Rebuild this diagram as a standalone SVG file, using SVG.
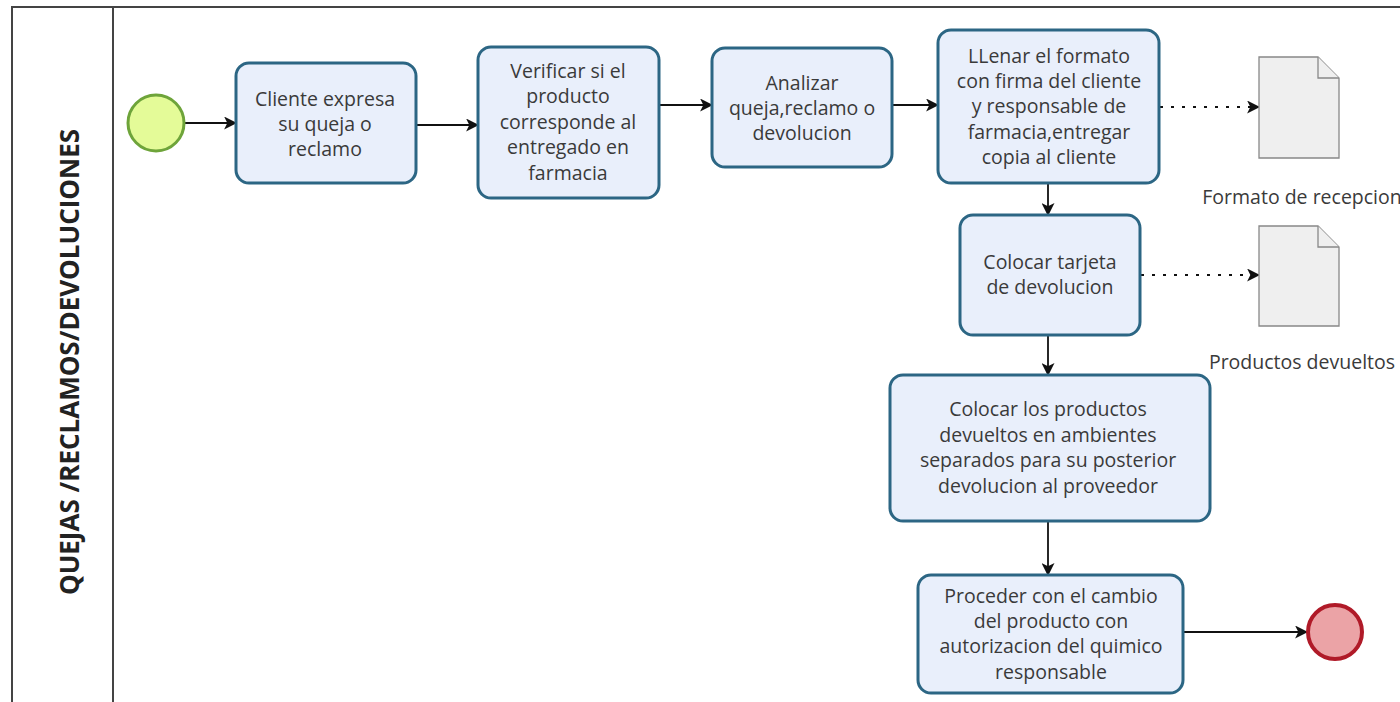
<svg xmlns="http://www.w3.org/2000/svg" width="1400" height="702" viewBox="0 0 1400 702">
  <style>
    .task rect { fill: #e9effb; stroke: #2c6684; stroke-width: 3; }
    .task text { font-family: "Open Sans", "Noto Sans", sans-serif; font-size: 19.5px; fill: #3a3a3a; text-anchor: middle; }
    .flow { stroke: #111; stroke-width: 1.8; fill: none; marker-end: url(#arrow); }
    .assoc { stroke: #111; stroke-width: 1.8; fill: none; stroke-dasharray: 3 8; marker-end: url(#arrow); }
    .doc path { fill: #efefef; stroke: #888; stroke-width: 1.3; }
    .doclabel { font-family: "Open Sans", "Noto Sans", sans-serif; font-size: 19.5px; fill: #3a3a3a; text-anchor: middle; }
  </style>
  <defs>
    <marker id="arrow" viewBox="0 0 12 12" refX="11" refY="6" markerWidth="13" markerHeight="13" markerUnits="userSpaceOnUse" orient="auto">
      <path d="M0,0 L12,6 L0,12 L3,6 Z" fill="#111"/>
    </marker>
  </defs>

  <rect width="1400" height="702" fill="#fff"/>

  <!-- pool and lane -->
  <g id="pool">
    <path d="M1400,7 H12 V702" fill="none" stroke="#444" stroke-width="2"/>
    <line x1="113" y1="7" x2="113" y2="702" stroke="#444" stroke-width="2"/>
    <text transform="translate(79,362) rotate(-90)" font-family="Open Sans, Noto Sans, sans-serif" font-size="26" font-weight="bold" fill="#222" text-anchor="middle">QUEJAS /RECLAMOS/DEVOLUCIONES</text>
  </g>

  <!-- connectors -->
  <g id="connectors">
    <line class="flow" x1="184" y1="123" x2="236" y2="123"/>
    <line class="flow" x1="416" y1="125" x2="478" y2="125"/>
    <line class="flow" x1="659" y1="105" x2="712" y2="105"/>
    <line class="flow" x1="892" y1="105" x2="938" y2="105"/>
    <line class="flow" x1="1048" y1="183" x2="1048" y2="215"/>
    <line class="flow" x1="1048" y1="335" x2="1048" y2="375"/>
    <line class="flow" x1="1048" y1="521" x2="1048" y2="575"/>
    <line class="flow" x1="1183" y1="632" x2="1307" y2="632"/>
    <line class="assoc" x1="1160" y1="107" x2="1259" y2="107"/>
    <line class="assoc" x1="1141" y1="275" x2="1259" y2="275"/>
  </g>

  <g id="start">
    <circle cx="156" cy="123" r="28" fill="#e4fb98" stroke="#6ea43a" stroke-width="3"/>
  </g>

  <g id="task1" class="task">
    <rect x="236" y="63" width="180" height="120" rx="13"/>
    <text x="325" y="106">Cliente expresa</text>
    <text x="325" y="131">su queja o</text>
    <text x="325" y="156">reclamo</text>
  </g>

  <g id="task2" class="task">
    <rect x="478" y="47" width="181" height="151" rx="13"/>
    <text x="568" y="78">Verificar si el</text>
    <text x="568" y="103">producto</text>
    <text x="568" y="129">corresponde al</text>
    <text x="568" y="154">entregado en</text>
    <text x="568" y="180">farmacia</text>
  </g>

  <g id="task3" class="task">
    <rect x="712" y="48" width="180" height="119" rx="13"/>
    <text x="802" y="90">Analizar</text>
    <text x="802" y="115">queja,reclamo o</text>
    <text x="802" y="140">devolucion</text>
  </g>

  <g id="task4" class="task">
    <rect x="938" y="30" width="221" height="153" rx="13"/>
    <text x="1049" y="63">LLenar el formato</text>
    <text x="1049" y="88">con firma del cliente</text>
    <text x="1049" y="113">y responsable de</text>
    <text x="1049" y="139">farmacia,entregar</text>
    <text x="1049" y="164">copia al cliente</text>
  </g>

  <g id="task5" class="task">
    <rect x="960" y="215" width="180" height="120" rx="13"/>
    <text x="1050" y="269">Colocar tarjeta</text>
    <text x="1050" y="294">de devolucion</text>
  </g>

  <g id="task6" class="task">
    <rect x="890" y="375" width="320" height="146" rx="13"/>
    <text x="1048" y="416">Colocar los productos</text>
    <text x="1048" y="442">devueltos en ambientes</text>
    <text x="1048" y="467">separados para su posterior</text>
    <text x="1048" y="493">devolucion al proveedor</text>
  </g>

  <g id="task7" class="task">
    <rect x="918" y="575" width="265" height="118" rx="13"/>
    <text x="1051" y="603">Proceder con el cambio</text>
    <text x="1051" y="628">del producto con</text>
    <text x="1051" y="653">autorizacion del quimico</text>
    <text x="1051" y="679">responsable</text>
  </g>

  <g id="end">
    <circle cx="1335" cy="632" r="27" fill="#eba3a6" stroke="#b01a28" stroke-width="4"/>
  </g>

  <g id="doc1" class="doc">
    <path d="M1259,57 H1318 L1339,78 V158 H1259 Z"/>
    <path d="M1318,57 V78 H1339" fill="none"/>
    <text class="doclabel" x="1302" y="204">Formato de recepcion</text>
  </g>

  <g id="doc2" class="doc">
    <path d="M1259,226 H1318 L1339,247 V326 H1259 Z"/>
    <path d="M1318,226 V247 H1339" fill="none"/>
    <text class="doclabel" x="1302" y="369">Productos devueltos</text>
  </g>
</svg>
